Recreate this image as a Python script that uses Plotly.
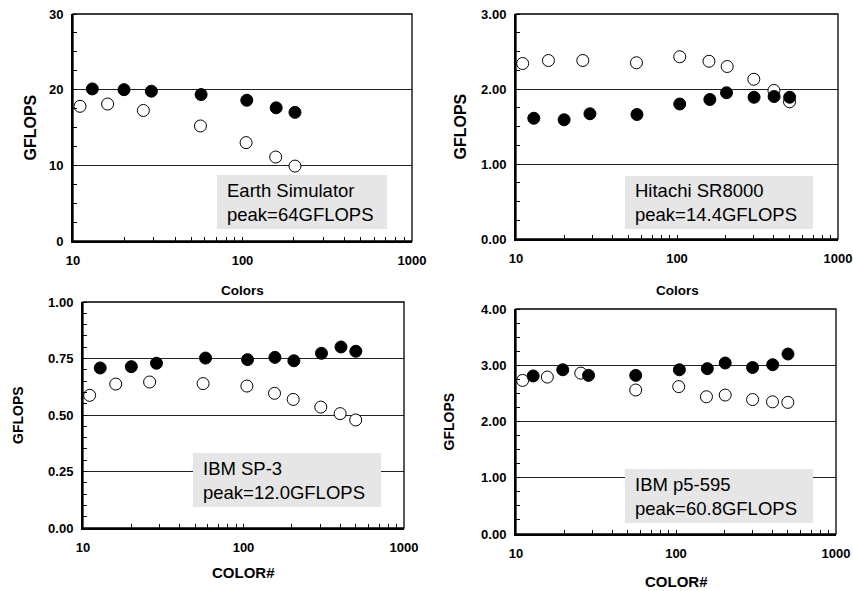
import plotly.graph_objects as go

# ---------------- data ----------------
es_x_filled = [13, 20, 29, 57, 106, 158, 204]
es_y_filled = [20.1, 20.0, 19.8, 19.35, 18.6, 17.6, 17.0]
es_x_open = [11, 16, 26, 56.5, 105, 157, 204]
es_y_open = [17.8, 18.1, 17.25, 15.2, 13.0, 11.1, 9.9]

sr_x_filled = [12.9, 19.9, 28.8, 56.4, 104, 160, 203, 301, 401, 501]
sr_y_filled = [1.61, 1.59, 1.67, 1.66, 1.80, 1.86, 1.95, 1.89, 1.90, 1.89]
sr_x_open = [11, 15.9, 26, 56, 104, 158, 205, 300, 400, 500]
sr_y_open = [2.34, 2.38, 2.38, 2.35, 2.43, 2.37, 2.30, 2.13, 1.98, 1.83]

sp_x_filled = [12.8, 20, 28.7, 58, 106, 157, 206, 306, 405, 501]
sp_y_filled = [0.708, 0.714, 0.729, 0.752, 0.745, 0.755, 0.740, 0.773, 0.801, 0.782]
sp_x_open = [11, 16, 26, 56, 105, 156, 204, 303, 400, 500]
sp_y_open = [0.587, 0.637, 0.646, 0.639, 0.628, 0.596, 0.569, 0.535, 0.506, 0.478]

p5_x_filled = [12.8, 19.6, 28.4, 56, 105, 157, 203, 301, 402, 501]
p5_y_filled = [2.81, 2.92, 2.82, 2.82, 2.92, 2.94, 3.04, 2.96, 3.01, 3.20]
p5_x_open = [11, 15.7, 25.4, 56, 104, 155, 203, 301, 401, 500]
p5_y_open = [2.73, 2.79, 2.86, 2.56, 2.62, 2.44, 2.47, 2.39, 2.35, 2.34]

x_tickvals = [10, 100, 1000]
x_ticktext = ["10", "100", "1000"]
x_minorvals = [20, 30, 40, 50, 60, 70, 80, 90, 100, 200, 300, 400, 500,
               600, 700, 800, 900]

panel_labels = ["Earth Simulator<br>peak=64GFLOPS",
                "Hitachi SR8000<br>peak=14.4GFLOPS",
                "IBM SP-3<br>peak=12.0GFLOPS",
                "IBM p5-595<br>peak=60.8GFLOPS"]
x_titles = ["Colors", "Colors", "COLOR#", "COLOR#"]
y_title = "GFLOPS"

# y axis specs: max, major step, minor step, format
y_specs = [(30, 10, 2.5, "d"), (3, 1, 0.25, ".2f"),
           (1, 0.25, 0.05, ".2f"), (4, 1, 0.25, ".2f")]

# ---------------- layout geometry (pixels) ----------------
W, H = 853, 591
# (left, right, top, bottom) of plot areas in pixels
boxes = [(73, 412, 14, 241), (516, 838, 14, 239),
         (83, 404, 302, 528), (516, 836, 309, 534)]
# annotation boxes (x0, x1, y0, y1) pixels
ann_boxes = [(217, 387, 175, 229), (625, 813, 176, 229),
             (193, 381, 453, 507), (625, 813, 469, 523)]
ytitle_x = [30, 460, 18, 448]
ytitle_size = [16, 16, 14, 14]
xtitle_y = [290, 290, 572, 581]
xtitle_size = [13.5, 13.5, 15, 15]

series = [
    (es_x_filled, es_y_filled, es_x_open, es_y_open),
    (sr_x_filled, sr_y_filled, sr_x_open, sr_y_open),
    (sp_x_filled, sp_y_filled, sp_x_open, sp_y_open),
    (p5_x_filled, p5_y_filled, p5_x_open, p5_y_open),
]

fig = go.Figure()
FONT = "Liberation Sans, Arial, sans-serif"
shapes = []
annotations = []

for i in range(4):
    sfx = "" if i == 0 else str(i + 1)
    xa, ya = "x" + sfx, "y" + sfx
    xf, yf, xo, yo = series[i]
    fig.add_trace(go.Scatter(
        x=xo, y=yo, mode="markers", xaxis=xa, yaxis=ya, showlegend=False,
        marker=dict(size=12, color="white", line=dict(color="black", width=1))))
    fig.add_trace(go.Scatter(
        x=xf, y=yf, mode="markers", xaxis=xa, yaxis=ya, showlegend=False,
        marker=dict(size=12, color="black", line=dict(color="black", width=1))))

    l, r, t, b = boxes[i]
    ymax, ystep, yminor, yfmt = y_specs[i]
    fig.layout["xaxis" + sfx] = dict(
        type="log", range=[1, 3], domain=[l / W, r / W], anchor=ya,
        automargin=False, ticklabeloverflow="allow",
        tickmode="array", tickvals=x_tickvals, ticktext=x_ticktext,
        ticks="outside", ticklen=6, tickcolor="rgba(0,0,0,0)",
        minor=dict(tickmode="array", tickvals=x_minorvals, ticks="inside",
                   ticklen=4, tickcolor="#000000", tickwidth=1,
                   showgrid=False),
        showgrid=False, zeroline=False, showline=True, linecolor="black",
        linewidth=2, mirror=False,
        tickfont=dict(family=FONT, size=13, color="black", weight="bold"),
    )
    fig.layout["yaxis" + sfx] = dict(
        range=[0, ymax], domain=[1 - b / H, 1 - t / H], anchor=xa,
        automargin=False, ticklabeloverflow="allow",
        tick0=0, dtick=ystep, tickformat=yfmt,
        ticks="outside", ticklen=5, tickcolor="rgba(0,0,0,0)",
        minor=dict(dtick=yminor, tick0=0, ticks="inside", ticklen=4,
                   tickcolor="#000000", tickwidth=1, showgrid=False),
        showgrid=True, gridcolor="#222", gridwidth=1,
        zeroline=False, showline=True, linecolor="black", linewidth=2,
        mirror=False,
        tickfont=dict(family=FONT, size=13, color="black", weight="bold"),
    )
    # thin frame on top/right
    shapes.append(dict(type="rect", xref="paper", yref="paper",
                       x0=l / W, x1=r / W, y0=1 - b / H, y1=1 - t / H,
                       fillcolor="rgba(0,0,0,0)", opacity=1,
                       line=dict(color="black", width=1.3), layer="above"))
    # label box
    ax0, ax1, ay0, ay1 = ann_boxes[i]
    shapes.append(dict(type="rect", xref="paper", yref="paper",
                       x0=ax0 / W, x1=ax1 / W, y0=1 - ay1 / H, y1=1 - ay0 / H,
                       fillcolor="#e6e6e6", opacity=1, line=dict(width=0),
                       layer="above"))
    annotations.append(dict(
        text=panel_labels[i], xref="paper", yref="paper",
        x=(ax0 + 8) / W, y=1 - (ay0 + ay1) / 2 / H, xanchor="left",
        yanchor="middle", showarrow=False, align="left",
        font=dict(family=FONT, size=18.5, color="black")))
    annotations.append(dict(
        text="<b>" + x_titles[i] + "</b>", xref="paper", yref="paper",
        x=(l + r) / 2 / W, y=1 - xtitle_y[i] / H, xanchor="center",
        yanchor="middle", showarrow=False,
        font=dict(family=FONT, size=xtitle_size[i], color="black")))
    annotations.append(dict(
        text="<b>" + y_title + "</b>", xref="paper", yref="paper",
        x=ytitle_x[i] / W, y=1 - (t + b) / 2 / H, xanchor="center",
        yanchor="middle", showarrow=False, textangle=-90,
        font=dict(family=FONT, size=ytitle_size[i], color="black")))

fig.update_layout(
    width=W, height=H, margin=dict(l=0, r=0, t=0, b=0),
    paper_bgcolor="white", plot_bgcolor="white",
    shapes=shapes, annotations=annotations, showlegend=False,
)

fig.write_html(
    "out.html",
    config={"displayModeBar": False},
    post_script="document.body.style.margin='0';"
                "document.body.style.overflow='hidden';",
)
